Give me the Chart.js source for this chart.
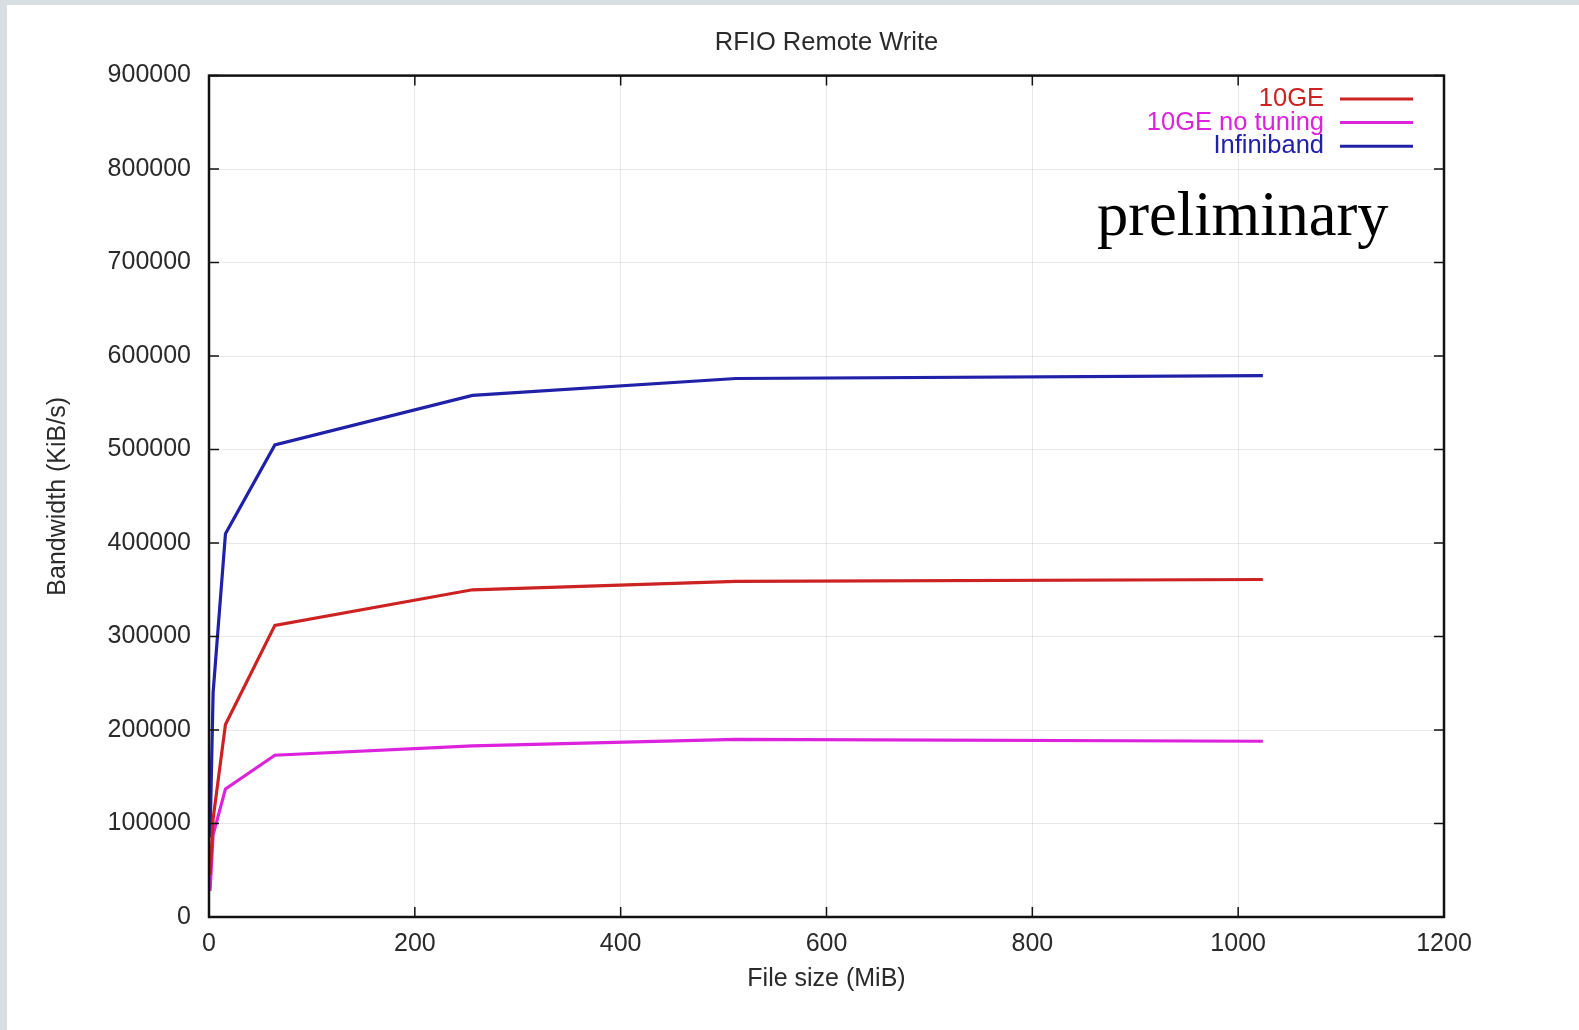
<!DOCTYPE html>
<html>
<head>
<meta charset="utf-8">
<script src="https://cdn.jsdelivr.net/npm/chart.js@4.4.1/dist/chart.umd.min.js"></script>
<style>
  html, body { margin: 0; padding: 0; }
  body { width: 1579px; height: 1030px; background: #d8dfe2; position: relative; overflow: hidden; }
  #paper { position: absolute; left: 7px; top: 5px; right: 0; bottom: 0; background: #fff; }
  #wrap { position: absolute; left: 0; top: 0; width: 1579px; height: 1030px; }
</style>
</head>
<body>
<div id="paper"></div>
<div id="wrap"><canvas id="chart" width="1579" height="1030"></canvas></div>
<script>
// file sizes (MiB)
const fileSizes = [1, 4, 16, 64, 256, 512, 1024];

// bandwidth (KiB/s)
const tenGE = [45000, 105000, 206000, 312000, 350000, 359000, 361000];
const tenGENoTuning = [28000, 88000, 137000, 173000, 183000, 190000, 188000];
const infiniband = [85000, 240000, 410000, 505000, 558000, 576000, 579000];

const seriesLabels = ["10GE", "10GE no tuning", "Infiniband"];
const seriesColors = ["#cc2222", "#dd22dd", "#2020a8"];

const xTicks = [0, 200, 400, 600, 800, 1000, 1200];
const yTicks = [0, 100000, 200000, 300000, 400000, 500000, 600000, 700000, 800000, 900000];

const FONT = "'Liberation Sans', Arial, sans-serif";
const TEXT = "#2a2a2a";

function toPoints(values) {
    return fileSizes.map((x, i) => ({ x: x, y: values[i] }));
}

// frame + inward ticks on all four sides, like gnuplot
const framePlugin = {
    id: "frame",
    afterDatasetsDraw(chart) {
        const { ctx, chartArea: a, scales } = chart;
        ctx.save();
        ctx.strokeStyle = "#111";
        ctx.lineWidth = 1.5;
        const len = 10;
        ctx.beginPath();
        xTicks.forEach((v) => {
            const px = scales.x.getPixelForValue(v);
            ctx.moveTo(px, a.bottom); ctx.lineTo(px, a.bottom - len);
            ctx.moveTo(px, a.top); ctx.lineTo(px, a.top + len);
        });
        yTicks.forEach((v) => {
            const py = scales.y.getPixelForValue(v);
            ctx.moveTo(a.left, py); ctx.lineTo(a.left + len, py);
            ctx.moveTo(a.right, py); ctx.lineTo(a.right - len, py);
        });
        ctx.stroke();
        ctx.lineWidth = 2.5;
        ctx.strokeRect(a.left, a.top, a.right - a.left, a.bottom - a.top);
        ctx.restore();
    }
};

// gnuplot-style key: right-aligned coloured text, sample line to the right
const keyPlugin = {
    id: "key",
    afterDraw(chart) {
        const { ctx } = chart;
        ctx.save();
        ctx.font = "25.5px " + FONT;
        ctx.textAlign = "right";
        ctx.textBaseline = "middle";
        chart.data.datasets.forEach((ds, i) => {
            const y = 99 + i * 23.6;
            ctx.fillStyle = ds.borderColor;
            ctx.fillText(ds.label, 1324, y);
            ctx.strokeStyle = ds.borderColor;
            ctx.lineWidth = 3;
            ctx.beginPath();
            ctx.moveTo(1340, y);
            ctx.lineTo(1413, y);
            ctx.stroke();
        });
        // "preliminary" stamp
        ctx.fillStyle = "#000";
        ctx.textAlign = "left";
        ctx.textBaseline = "alphabetic";
        ctx.font = "62.5px 'Liberation Serif', 'Times New Roman', serif";
        ctx.fillText("preliminary", 1097, 235);
        ctx.restore();
    }
};

new Chart(document.getElementById("chart"), {
    type: "line",
    data: {
        datasets: [
            { label: seriesLabels[0], data: toPoints(tenGE), borderColor: seriesColors[0] },
            { label: seriesLabels[1], data: toPoints(tenGENoTuning), borderColor: seriesColors[1] },
            { label: seriesLabels[2], data: toPoints(infiniband), borderColor: seriesColors[2] },
        ].map((d) => Object.assign(d, {
            borderWidth: 3.2,
            pointRadius: 0,
            tension: 0,
            fill: false,
            backgroundColor: d.borderColor,
        })),
    },
    options: {
        responsive: false,
        animation: false,
        devicePixelRatio: 1,
        layout: { padding: { left: 0, right: 135, top: 0, bottom: 0 } },
        plugins: {
            legend: { display: false },
            tooltip: { enabled: false },
            title: {
                display: true,
                fullSize: false,
                text: "RFIO Remote Write",
                color: TEXT,
                font: { family: FONT, size: 25.5, weight: "normal" },
                padding: { top: 28, bottom: 17 },
            },
        },
        scales: {
            x: {
                type: "linear",
                min: 0,
                max: 1200,
                afterBuildTicks: (s) => { s.ticks = xTicks.map((v) => ({ value: v })); },
                afterFit: (s) => { s.height = 113; },
                grid: { color: "rgba(0,0,0,0.09)", lineWidth: 1, drawTicks: false },
                border: { display: false },
                ticks: {
                    color: TEXT,
                    padding: 12,
                    maxRotation: 0,
                    font: { family: FONT, size: 25 },
                    callback: (v) => String(v),
                },
                title: {
                    display: true,
                    text: "File size (MiB)",
                    color: TEXT,
                    font: { family: FONT, size: 25 },
                    padding: { top: 0, bottom: 36 },
                },
            },
            y: {
                type: "linear",
                min: 0,
                max: 900000,
                afterBuildTicks: (s) => { s.ticks = yTicks.map((v) => ({ value: v })); },
                afterFit: (s) => { s.width = 209; },
                grid: { color: "rgba(0,0,0,0.09)", lineWidth: 1, drawTicks: false },
                border: { display: false },
                ticks: {
                    color: TEXT,
                    padding: 18,
                    font: { family: FONT, size: 25 },
                    callback: (v) => String(v),
                },
                title: {
                    display: true,
                    text: "Bandwidth (KiB/s)",
                    color: TEXT,
                    font: { family: FONT, size: 25 },
                    padding: { top: 43, bottom: 0 },
                },
            },
        },
    },
    plugins: [framePlugin, keyPlugin],
});
</script>
</body>
</html>
